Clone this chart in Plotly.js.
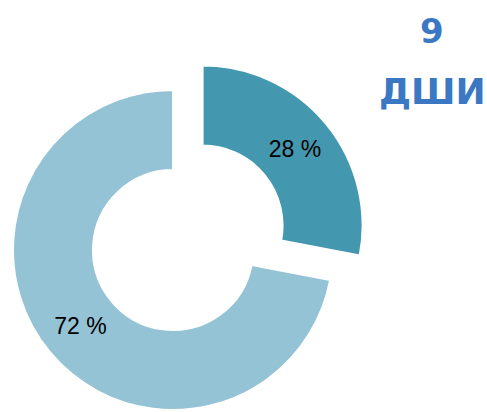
<!DOCTYPE html>
<html>
<head>
<meta charset="utf-8">
<script src="https://cdn.plot.ly/plotly-3.0.1.min.js"></script>
<style>
  html, body { margin: 0; padding: 0; width: 487px; height: 412px; overflow: hidden; background: #fff; }
  #chart { position: absolute; left: -30px; top: 0; width: 560px; height: 460px; }
</style>
</head>
<body>
<div id="chart"></div>
<script>
// Data
const labels = ['Доля 1', 'Доля 2'];
const values = [28, 72];
const colors = ['#4397AF', '#94C3D6'];
const pulls = [0.24, 0];
const titleLines = ['9', 'ДШИ'];

// Layout geometry (paper pixels)
const W = 560, H = 460, OFFX = 30;
const cx = 173 + OFFX, cy = 250, R = 160, maxPull = 0.24;
const half = R * (1 + maxPull);
const domX = [(cx - half) / W, (cx + half) / W];
const domY = [1 - (cy + half) / H, 1 - (cy - half) / H];
const px = x => (x + OFFX) / W;
const py = y => 1 - y / H;

const trace = {
  type: 'pie',
  labels: labels,
  values: values,
  hole: 0.5,
  sort: false,
  direction: 'clockwise',
  rotation: 0,
  pull: pulls,
  marker: { colors: colors, line: { color: '#ffffff', width: 2 } },
  texttemplate: '%{value} %',
  textposition: 'inside',
  insidetextorientation: 'horizontal',
  textfont: { family: 'Liberation Sans, Arial, sans-serif', size: 23, color: '#000000' },
  domain: { x: domX, y: domY },
  hoverinfo: 'label+value'
};

const layout = {
  width: W, height: H,
  margin: { l: 0, r: 0, t: 0, b: 0 },
  paper_bgcolor: '#ffffff',
  showlegend: false,
  annotations: [
    { text: '<b>' + titleLines[0] + '</b>', x: px(432), y: py(31), xref: 'paper', yref: 'paper',
      xanchor: 'center', yanchor: 'middle', showarrow: false,
      font: { family: 'DejaVu Sans, sans-serif', size: 34, color: '#3A78C4' } },
    { text: '<b>' + titleLines[1] + '</b>', x: px(432), y: py(92), xref: 'paper', yref: 'paper',
      xanchor: 'center', yanchor: 'middle', showarrow: false,
      font: { family: 'DejaVu Sans, sans-serif', size: 36, color: '#3A78C4' } }
  ]
};

Plotly.newPlot('chart', [trace], layout, { displayModeBar: false, staticPlot: true });
</script>
</body>
</html>
